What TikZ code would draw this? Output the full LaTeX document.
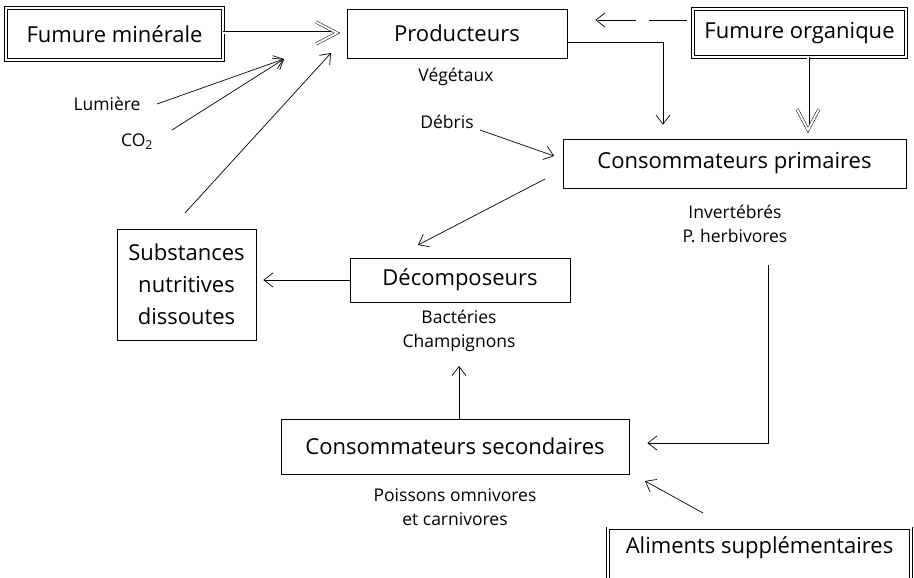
\documentclass[tikz,border=0pt]{standalone}
\usepackage{fontspec}
\setmainfont{Open Sans}
\usetikzlibrary{arrows.meta}
\begin{document}
\begin{tikzpicture}[x=1pt,y=-1pt,
  box/.style={draw, line width=0.7pt, inner sep=0pt, font=\fontsize{22}{26}\selectfont},
  dbox/.style={box, double, double distance=2.2pt, line width=0.45pt},
  lbl/.style={font=\fontsize{17.5}{24}\selectfont, align=center, inner sep=0pt},
  arr/.style={draw, line width=0.7pt, -{Straight Barb[length=9pt,width=14pt]}},
  dbl/.style={draw, double, double distance=2pt, line width=0.5pt},
]
\useasboundingbox (0,0) rectangle (914,578);

% boxes
\node[dbox, minimum width=217, minimum height=52] (fm) at (114.5,34) {Fumure minérale};
\node[box, minimum width=220, minimum height=49] (prod) at (457,33.5) {Producteurs};
\node[dbox, minimum width=213, minimum height=48] (fo) at (799.5,33) {Fumure organique};
\node[box, minimum width=343, minimum height=49] (cp) at (734.5,163.5) {Consommateurs primaires};
\node[box, minimum width=220, minimum height=44] (dec) at (460,280) {Décomposeurs};
\node[box, minimum width=139, minimum height=111, align=center, font=\fontsize{22}{32}\selectfont] (sub) at (186.5,284.5) {Substances\\nutritives\\dissoutes};
\node[box, minimum width=348, minimum height=55] (cs) at (455,446.5) {Consommateurs secondaires};
\node[dbox, anchor=north, minimum width=303, text height=16pt, text depth=40pt, inner ysep=9pt] (al) at (759.5,528) {Aliments supplémentaires};

% labels
\node[lbl] (veg) at (456,77) {Végétaux};
\node[lbl] (deb) at (447,122) {Débris};
\node[lbl] (lum) at (107,104) {Lumière};
\node[lbl] (co2) at (137,142) {CO\textsubscript{2}};
\node[lbl] (cpl) at (735,224) {Invertébrés\\P. herbivores};
\node[lbl] (decl) at (459,331) {Bactéries\\Champignons};
\node[lbl] (csl) at (455,507) {Poissons omnivores\\et carnivores};

% free ends
\coordinate (lumE) at (157,104);
\coordinate (co2E) at (172,130);
\coordinate (subE) at (185,213);
\coordinate (debE) at (480,130);
\coordinate (cpS) at (545,179);
\coordinate (cpR) at (768,265);
\coordinate (alN) at (703,513);
\coordinate (tipA) at (284,59);
\coordinate (tipB) at (331,53);
\coordinate (tipD) at (418,245);
\coordinate (tipE) at (645,481);

% double arrows
\draw[dbl, shorten >=12pt] (fm.east |- 0,33) -- (prod.west |- 0,33);
\draw[dbl] (337,33) ++(-21,-11) -- (337,33) -- ++(-21,11);
\draw[dbl, shorten >=9pt] ([xshift=8.5pt]fo.south) -- ([xshift=8.5pt]fo.south |- cp.north);
\draw[dbl] (808,130) ++(-11,-21) -- (808,130) -- ++(11,-21);

% single arrows
\draw[arr] (lumE) -- (tipA);
\draw[arr] (co2E) -- (tipA);
\draw[arr] (subE) -- (tipB);
\draw[arr, dash pattern=on 38pt off 13pt, shorten <=6pt, shorten >=28pt] ([yshift=13pt]fo.west) -- ([yshift=13pt+0.5pt]prod.east);
\draw[arr, shorten >=14pt] ([yshift=-8.5pt]prod.east) -| ([xshift=-71.5pt]cp.north);
\draw[arr, shorten >=9pt] (debE) -- (cp.west |- 0,159);
\draw[arr] (cpS) -- (tipD);
\draw[arr, shorten >=7pt] (dec.west) -- (sub.east |- dec.west);
\draw[arr, shorten >=14pt] (cs.north -| 459,0) -- (decl.south -| 459,0);
\draw[arr, shorten >=18pt] (cpR) |- ([yshift=3.5pt]cs.east);
\draw[arr] (alN) -- (tipE);
\end{tikzpicture}
\end{document}
